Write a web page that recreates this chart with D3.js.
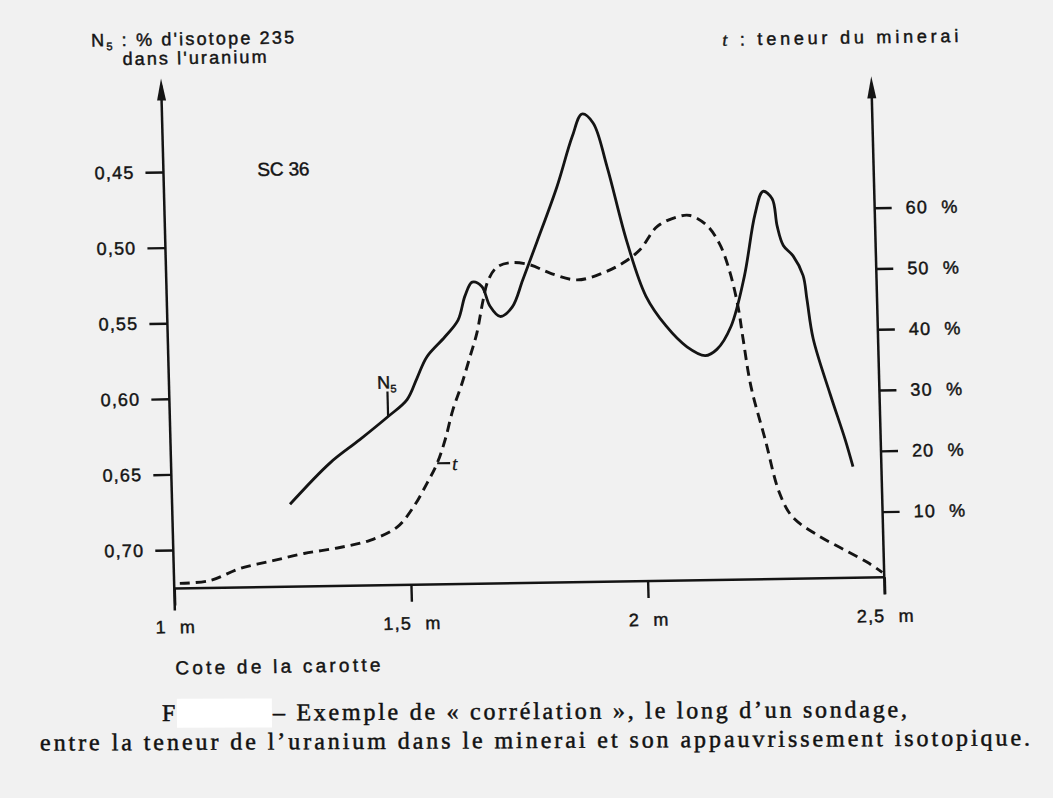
<!DOCTYPE html>
<html><head><meta charset="utf-8">
<script src="https://cdn.jsdelivr.net/npm/d3@7"></script>
<style>
html,body{margin:0;padding:0;background:#f1f1f1;}
svg{display:block;}
</style></head><body>
<svg id="chart" width="1053" height="798"></svg>
<script>
// ---------- data ----------
const depthTicks = [1, 1.5, 2, 2.5];
const depthTickLabels = ["1 m", "1,5 m", "2 m", "2,5 m"];
const n5Ticks = [0.45, 0.50, 0.55, 0.60, 0.65, 0.70];
const n5TickLabels = ["0,45", "0,50", "0,55", "0,60", "0,65", "0,70"];
const gradeTicks = [10, 20, 30, 40, 50, 60];
const gradeTickLabels = ["10 %", "20 %", "30 %", "40 %", "50 %", "60 %"];

// N5 : % d'isotope 235 (solid curve, left axis, reversed)
const n5Depth = [1.249,1.336,1.400,1.461,1.502,1.524,1.546,1.585,1.614,1.630,1.646,1.666,1.682,1.703,1.729,1.753,1.785,1.830,1.865,1.887,1.910,1.937,1.975,2.012,2.053,2.096,2.134,2.159,2.190,2.221,2.247,2.265,2.284,2.293,2.305,2.325,2.345,2.352,2.363,2.396,2.425,2.440];
const n5Values = [0.671,0.644,0.629,0.614,0.603,0.589,0.575,0.562,0.551,0.535,0.526,0.529,0.542,0.549,0.543,0.525,0.500,0.464,0.431,0.416,0.422,0.451,0.501,0.537,0.557,0.571,0.577,0.573,0.558,0.525,0.484,0.469,0.474,0.492,0.505,0.512,0.525,0.541,0.567,0.604,0.634,0.652];

// t : teneur du minerai (dashed curve, right axis, %)
const gradeDepth = [1.012,1.076,1.140,1.210,1.276,1.352,1.416,1.474,1.509,1.540,1.562,1.580,1.598,1.619,1.637,1.653,1.668,1.680,1.699,1.727,1.769,1.811,1.868,1.923,1.966,2.002,2.040,2.082,2.110,2.145,2.172,2.191,2.206,2.215,2.229,2.256,2.283,2.309,2.359,2.415,2.465,2.496];
const gradeValues = [0,0.4,2.3,3.5,4.6,5.5,6.6,8.7,11.9,15.9,19.1,22.9,27.8,32.2,36.5,40.4,45.8,49.1,51.2,51.9,51.5,50.1,48.9,50.0,51.6,53.7,57.5,59.0,59.2,57.5,54.2,49.7,44.1,38.7,30.9,22.2,13.4,9.4,6.4,3.9,1.7,0];

const n5LabelAt = {depth: 1.461, value: 0.614};
const gradeLabelAt = {depth: 1.562, value: 19.1};

// ---------- layout ----------
const ink = "#141414";
const sans = "'Liberation Sans', Arial, sans-serif";
const serif = "'Liberation Serif', 'Times New Roman', serif";
const baseY = 583;

const x = d3.scaleLinear().domain([1, 2.5]).range([169, 879]);
const yN5 = d3.scaleLinear().domain([0.45, 0.70]).range([166.5, 544.5]);
const yT = d3.scaleLinear().domain([0, 60]).range([578, 213.4]);

const svg = d3.select("#chart");
svg.append("rect").attr("width", 1053).attr("height", 798).attr("fill", "#f1f1f1");

// scan skew
const g = svg.append("g")
  .attr("transform", "translate(520,380) matrix(1,-0.0157,0.026,1,0,0) translate(-520,-380)");

function heavy(sel, w) {
  return sel.attr("stroke", ink).attr("stroke-width", w == null ? 0.45 : w).attr("paint-order", "stroke");
}
function styleAxis(sel, size) {
  sel.select(".domain").remove();
  sel.selectAll(".tick line").attr("stroke", ink).attr("stroke-width", 2.4);
  const t = sel.selectAll(".tick text").attr("fill", ink)
    .style("font-family", sans).style("font-size", size + "px")
    .style("letter-spacing", "1.2px").style("word-spacing", "7px");
  heavy(t);
}

// left axis
const gL = g.append("g").attr("transform", `translate(${x(1)},0)`)
  .call(d3.axisLeft(yN5).tickValues(n5Ticks).tickFormat((d, i) => n5TickLabels[i]).tickSize(18).tickPadding(11));
styleAxis(gL, 18);
// right axis
const gR = g.append("g").attr("transform", `translate(${x(2.5)},0)`)
  .call(d3.axisRight(yT).tickValues(gradeTicks).tickFormat((d, i) => gradeTickLabels[i]).tickSize(17).tickPadding(14));
styleAxis(gR, 18);
// bottom axis
const gB = g.append("g").attr("transform", `translate(0,${baseY})`)
  .call(d3.axisBottom(x).tickValues(depthTicks).tickFormat((d, i) => depthTickLabels[i]).tickSize(17).tickPadding(15));
styleAxis(gB, 18);

// axis lines
function line(x1, y1, x2, y2, w) {
  return g.append("line").attr("x1", x1).attr("y1", y1).attr("x2", x2).attr("y2", y2)
    .attr("stroke", ink).attr("stroke-width", w || 2.5);
}
line(x(1), 80, x(1), 605);
line(x(2.5), 90, x(2.5), 600);
line(x(1), baseY, x(2.5), baseY);
function arrow(cx, tipY) {
  g.append("path").attr("d", `M${cx},${tipY} L${cx - 4.5},${tipY + 22} L${cx + 4.5},${tipY + 22} Z`).attr("fill", ink);
}
arrow(x(1), 73);
arrow(x(2.5), 82);

// curves
const n5Pts = n5Depth.map((d, i) => [x(d), yN5(n5Values[i])]);
const gradePts = gradeDepth.map((d, i) => [x(d), yT(gradeValues[i])]);
const lineGen = d3.line().curve(d3.curveCatmullRom.alpha(0.5));
g.append("path").attr("d", lineGen(gradePts)).attr("fill", "none")
  .attr("stroke", ink).attr("stroke-width", 2.9).attr("stroke-dasharray", "10,6");
g.append("path").attr("d", lineGen(n5Pts)).attr("fill", "none")
  .attr("stroke", ink).attr("stroke-width", 2.8).attr("stroke-linejoin", "round");

// curve labels
const nx = x(n5LabelAt.depth), ny = yN5(n5LabelAt.value);
line(nx, ny, nx, ny - 25, 2.2);
const nLab = g.append("text").attr("x", nx - 10).attr("y", ny - 28)
  .attr("fill", ink).style("font-family", sans).style("font-size", "18px");
heavy(nLab);
nLab.append("tspan").text("N");
nLab.append("tspan").attr("dy", 4).style("font-size", "11px").text("5");

const tx = x(gradeLabelAt.depth), ty = yT(gradeLabelAt.value);
line(tx, ty, tx + 13, ty, 2.2);
heavy(g.append("text").attr("x", tx + 15).attr("y", ty + 7).attr("fill", ink)
  .style("font-family", serif).style("font-style", "italic").style("font-size", "19px").text("t"), 0.3);

// titles
function txt(str, px, py, size, len, family) {
  const t = g.append("text").attr("x", px).attr("y", py).attr("fill", ink)
    .style("font-family", family || sans).style("font-size", size + "px").text(str);
  if (len) t.attr("textLength", len).attr("lengthAdjust", "spacing");
  heavy(t);
  return t;
}
const t1 = g.append("text").attr("x", 100).attr("y", 40).attr("fill", ink)
  .style("font-family", sans).style("font-size", "18px").attr("textLength", 203).attr("lengthAdjust", "spacing");
heavy(t1);
t1.append("tspan").text("N");
t1.append("tspan").attr("dy", 4).style("font-size", "11px").text("5");
t1.append("tspan").attr("dy", -4).text(" : % d'isotope 235");
txt("dans l'uranium", 131, 59, 18, 144);
const rt = g.append("text").attr("x", 731).attr("y", 49).attr("fill", ink)
  .style("font-family", sans).style("font-size", "18px").attr("textLength", 236).attr("lengthAdjust", "spacing");
heavy(rt);
rt.append("tspan").style("font-family", serif).style("font-style", "italic").text("t");
rt.append("tspan").text(" : teneur du minerai");
txt("SC 36", 263, 172, 19, 52);
txt("Cote de la carotte", 168, 669, 19, 205);

// caption
const cap = svg.append("g").attr("transform", "rotate(-0.3,535,735)");
function ctxt(str, px, py, len) {
  const t = cap.append("text").attr("x", px).attr("y", py).attr("fill", "#111")
    .style("font-family", serif).style("font-size", "24px").text(str);
  if (len) t.attr("textLength", len).attr("lengthAdjust", "spacing");
  heavy(t, 0.5);
  return t;
}
ctxt("F", 162, 719);
cap.append("rect").attr("x", 177).attr("y", 697).attr("width", 95).attr("height", 29).attr("fill", "#ffffff");
ctxt("– Exemple de « corrélation », le long d’un sondage,", 273, 719, 634);
ctxt("entre la teneur de l’uranium dans le minerai et son appauvrissement isotopique.", 40, 748, 990);
</script>
</body></html>
